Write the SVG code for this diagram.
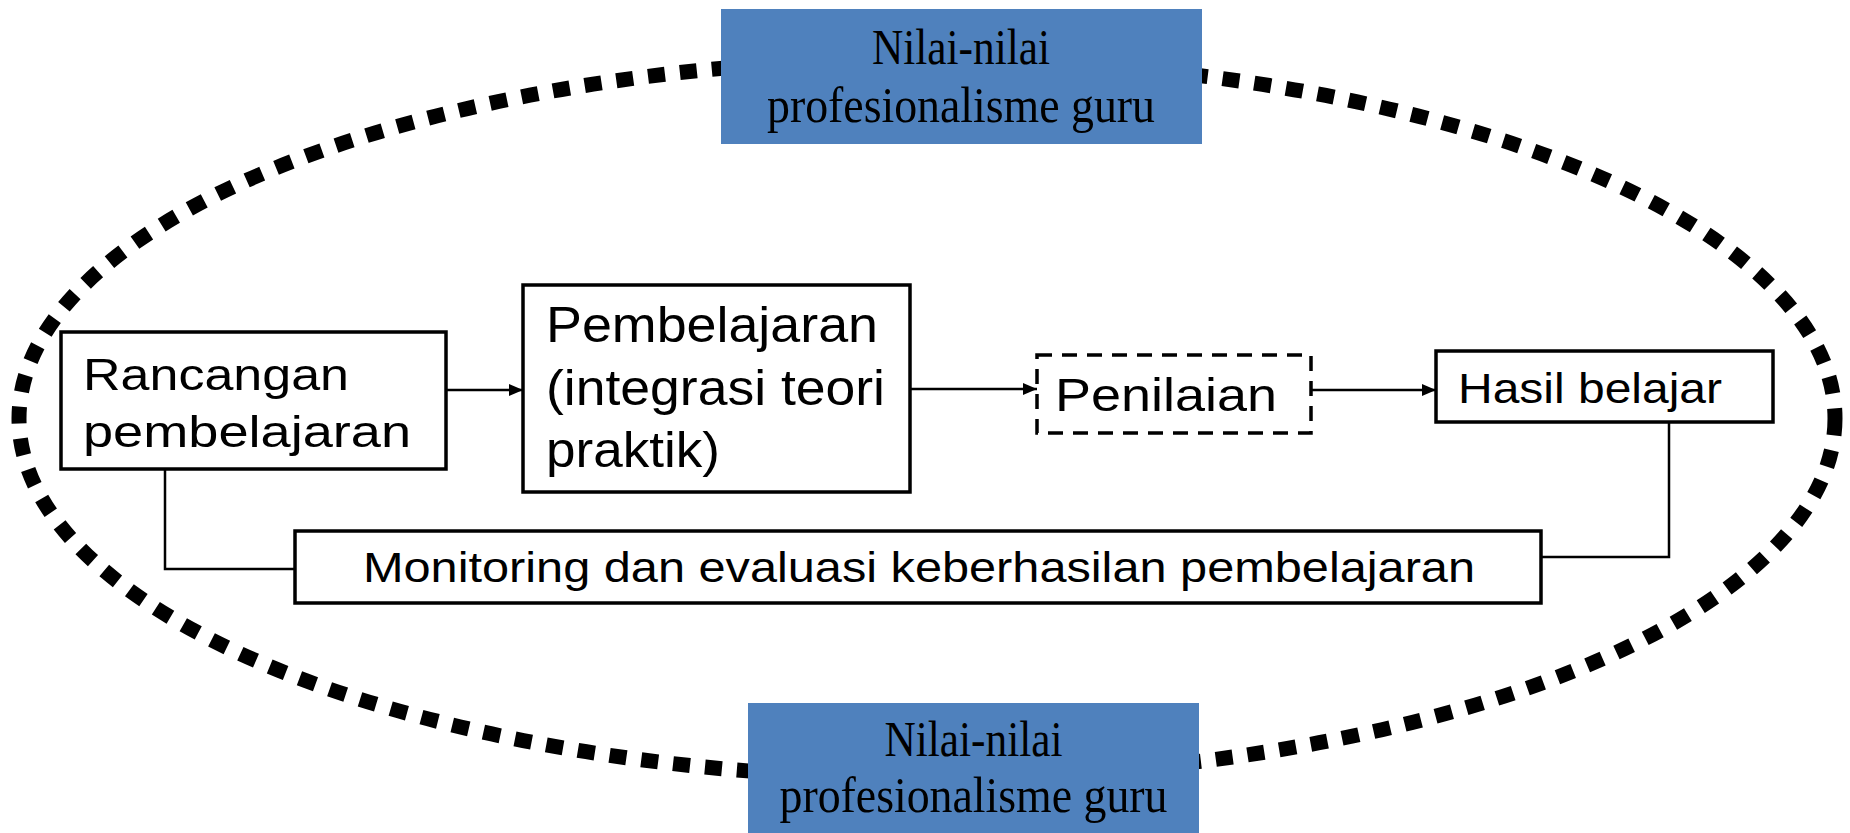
<svg xmlns="http://www.w3.org/2000/svg" width="1850" height="833" viewBox="0 0 1850 833">
  <defs>
    <marker id="arrow" viewBox="0 0 14 12" refX="14" refY="6" markerWidth="14" markerHeight="12" markerUnits="userSpaceOnUse" orient="auto">
      <path d="M0,0 L14,6 L0,12 Z" fill="#000"/>
    </marker>
    <style>
      .box { fill: #fff; stroke: #000; stroke-width: 3.5; }
      .dbox { fill: #fff; stroke: #000; stroke-width: 3.5; stroke-dasharray: 15 10; }
      .blue { fill: #4f81bd; stroke: none; }
      .lbl { font-family: "Liberation Sans", Arial, sans-serif; fill: #000; }
      .ser { font-family: "Liberation Serif", "Times New Roman", serif; font-size: 51px; fill: #000; text-anchor: middle; }
      .conn { fill: none; stroke: #000; stroke-width: 2.5; }
      .oval { fill: none; stroke: #000; stroke-width: 15; stroke-dasharray: 17 15; }
    </style>
  </defs>
  <rect width="1850" height="833" fill="#fff"/>

  <ellipse class="oval" cx="927" cy="418.5" rx="908" ry="359.5"/>

  <g id="connectors">
    <line class="conn" x1="446" y1="390" x2="523" y2="390" marker-end="url(#arrow)"/>
    <line class="conn" x1="910" y1="389" x2="1037" y2="389" marker-end="url(#arrow)"/>
    <line class="conn" x1="1311" y1="390" x2="1436" y2="390" marker-end="url(#arrow)"/>
    <polyline class="conn" points="165,469 165,569 295,569"/>
    <polyline class="conn" points="1669,422 1669,557 1541,557"/>
  </g>

  <g id="nilai-top">
    <rect class="blue" x="721" y="9" width="481" height="135"/>
    <text class="ser" x="961" y="64" textLength="178" lengthAdjust="spacingAndGlyphs">Nilai-nilai</text>
    <text class="ser" x="961" y="122" textLength="388" lengthAdjust="spacingAndGlyphs">profesionalisme guru</text>
  </g>

  <g id="nilai-bottom">
    <rect class="blue" x="748" y="703" width="451" height="135"/>
    <text class="ser" x="973.5" y="756" textLength="178" lengthAdjust="spacingAndGlyphs">Nilai-nilai</text>
    <text class="ser" x="973.5" y="812" textLength="388" lengthAdjust="spacingAndGlyphs">profesionalisme guru</text>
  </g>

  <g id="rancangan">
    <rect class="box" x="61" y="332" width="385" height="137"/>
    <text class="lbl" x="83" y="390" font-size="45" textLength="266" lengthAdjust="spacingAndGlyphs">Rancangan</text>
    <text class="lbl" x="83" y="447" font-size="45" textLength="328" lengthAdjust="spacingAndGlyphs">pembelajaran</text>
  </g>

  <g id="pembelajaran">
    <rect class="box" x="523" y="285" width="387" height="207"/>
    <text class="lbl" x="546" y="342" font-size="50" textLength="332" lengthAdjust="spacingAndGlyphs">Pembelajaran</text>
    <text class="lbl" x="546" y="405" font-size="50" textLength="339" lengthAdjust="spacingAndGlyphs">(integrasi teori</text>
    <text class="lbl" x="546" y="467" font-size="50" textLength="174" lengthAdjust="spacingAndGlyphs">praktik)</text>
  </g>

  <g id="penilaian">
    <rect class="dbox" x="1037" y="355" width="274" height="78"/>
    <text class="lbl" x="1055" y="411" font-size="46" textLength="222" lengthAdjust="spacingAndGlyphs">Penilaian</text>
  </g>

  <g id="hasil">
    <rect class="box" x="1436" y="351" width="337" height="71"/>
    <text class="lbl" x="1458" y="403" font-size="42" textLength="264" lengthAdjust="spacingAndGlyphs">Hasil belajar</text>
  </g>

  <g id="monitoring">
    <rect class="box" x="295" y="531" width="1246" height="72"/>
    <text class="lbl" x="363" y="582" font-size="42" textLength="1112" lengthAdjust="spacingAndGlyphs">Monitoring dan evaluasi keberhasilan pembelajaran</text>
  </g>
</svg>
